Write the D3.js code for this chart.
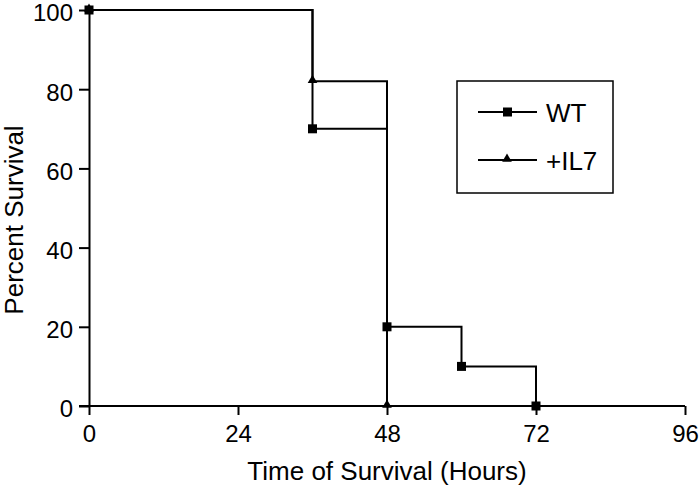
<!DOCTYPE html>
<html>
<head>
<meta charset="utf-8">
<script src="https://cdn.jsdelivr.net/npm/d3@7"></script>
<style>
  body { margin: 0; background: #fff; }
  text { font-family: "Liberation Sans", Arial, sans-serif; fill: #000; }
</style>
</head>
<body>
<div id="chart"></div>
<script>
// Data
const wtHours = [0, 36, 48, 60, 72];
const wtSurvival = [100, 70, 20, 10, 0];
const il7Hours = [0, 36, 48];
const il7Survival = [100, 82, 0];
const xTicks = [0, 24, 48, 72, 96];
const yTicks = [0, 20, 40, 60, 80, 100];
const seriesNames = ["WT", "+IL7"];

const W = 700, H = 488;
const margin = { top: 10, right: 15, bottom: 82, left: 89 };
const width = W - margin.left - margin.right;
const height = H - margin.top - margin.bottom;

const svg = d3.select("#chart")
  .append("svg")
  .attr("width", W)
  .attr("height", H)
  .append("g")
  .attr("transform", `translate(${margin.left},${margin.top})`);

const x = d3.scaleLinear().domain([0, 96]).range([0, 596]);
const y = d3.scaleLinear().domain([0, 100]).range([height, 0]);

// Axes
const xAxis = svg.append("g")
  .attr("transform", `translate(0,${height})`)
  .call(d3.axisBottom(x).tickValues(xTicks).tickSize(9).tickPadding(10).tickSizeOuter(0));
const yAxis = svg.append("g")
  .call(d3.axisLeft(y).tickValues(yTicks).tickSize(10).tickPadding(6).tickSizeOuter(0));

[xAxis, yAxis].forEach(a => {
  a.select(".domain").attr("stroke", "#000").attr("stroke-width", 2);
  a.selectAll(".tick line").attr("stroke", "#000").attr("stroke-width", 2);
  a.selectAll(".tick text").attr("font-size", 24).attr("font-family", "Liberation Sans, Arial, sans-serif");
});
yAxis.selectAll(".tick text").attr("dy", "0.45em");
// x domain extends left to meet the y tick at 0
xAxis.select(".domain").attr("d", `M-10,0H${x(96)}`);

// Axis titles
svg.append("text")
  .attr("x", x(48))
  .attr("y", height + 74)
  .attr("text-anchor", "middle")
  .attr("font-size", 26)
  .text("Time of Survival (Hours)");

svg.append("text")
  .attr("transform", `translate(${-66},${210}) rotate(-90)`)
  .attr("text-anchor", "middle")
  .attr("font-size", 26)
  .text("Percent Survival");

// Step lines
const step = d3.line()
  .x(d => x(d[0]))
  .y(d => y(d[1]))
  .curve(d3.curveStepAfter);

const wt = wtHours.map((h, i) => [h, wtSurvival[i]]);
const il7 = il7Hours.map((h, i) => [h, il7Survival[i]]);

[il7, wt].forEach(s => {
  svg.append("path")
    .datum(s)
    .attr("fill", "none")
    .attr("stroke", "#000")
    .attr("stroke-width", 2)
    .attr("d", step);
});

// Markers
const tri = d3.symbol().type(d3.symbolTriangle).size(40);
svg.selectAll(".tri")
  .data(il7)
  .enter().append("path")
  .attr("class", "tri")
  .attr("transform", d => `translate(${x(d[0])},${y(d[1]) - 1})`)
  .attr("d", tri)
  .attr("fill", "#000");

svg.selectAll(".sq")
  .data(wt)
  .enter().append("rect")
  .attr("class", "sq")
  .attr("x", d => x(d[0]) - 4.5)
  .attr("y", d => y(d[1]) - 4.5)
  .attr("width", 9)
  .attr("height", 9)
  .attr("fill", "#000");

// Legend
const lg = svg.append("g").attr("transform", `translate(${457 - margin.left},${81 - margin.top})`);
lg.append("rect")
  .attr("width", 156)
  .attr("height", 112)
  .attr("fill", "#fff")
  .attr("stroke", "#000")
  .attr("stroke-width", 1.5);

seriesNames.forEach((name, i) => {
  const yy = 31 + i * 48;
  lg.append("line")
    .attr("x1", 21).attr("x2", 80)
    .attr("y1", yy).attr("y2", yy)
    .attr("stroke", "#000").attr("stroke-width", 2);
  if (i === 0) {
    lg.append("rect")
      .attr("x", 46).attr("y", yy - 4.5)
      .attr("width", 9).attr("height", 9)
      .attr("fill", "#000");
  } else {
    lg.append("path")
      .attr("transform", `translate(50,${yy - 1})`)
      .attr("d", tri)
      .attr("fill", "#000");
  }
  lg.append("text")
    .attr("x", 89)
    .attr("y", yy + 10)
    .attr("font-size", 26)
    .text(name);
});
</script>
</body>
</html>
